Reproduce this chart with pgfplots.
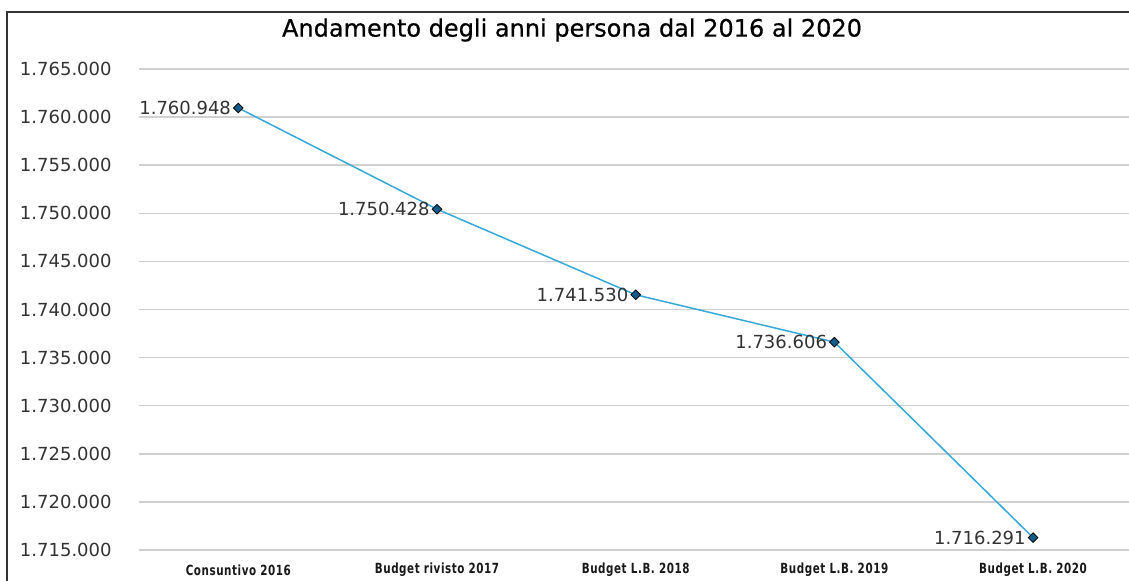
\documentclass[border=0pt]{standalone}
\usepackage{fontspec}
\setmainfont{DejaVu Sans}
\newfontfamily\condfont{DejaVu Sans}[FakeStretch=0.74, LetterSpace=4]
\newfontfamily\titlefont{DejaVu Sans}[FakeBold=0.6]
\usepackage{pgfplots}
\pgfplotsset{compat=1.18}
\definecolor{lineblue}{RGB}{55,168,218}
\definecolor{markblue}{RGB}{18,92,140}
\definecolor{gridgray}{RGB}{208,208,208}
\begin{document}
\begin{tikzpicture}
\begin{axis}[
  at={(0,0)}, anchor=south west,
  scale only axis, width=496.7pt, height=240.5pt,
  xmin=-0.5, xmax=4.5, ymin=1715000, ymax=1765000,
  xtick={0,1,2,3,4},
  xticklabels={Consuntivo 2016, Budget rivisto 2017, Budget L.B. 2018, Budget L.B. 2019, Budget L.B. 2020},
  ytick={1715000,1720000,1725000,1730000,1735000,1740000,1745000,1750000,1755000,1760000,1765000},
  ymajorgrids, grid style={draw=gridgray, line width=0.75pt},
  axis line style={draw=none}, major tick length=0pt,
  scaled y ticks=false,
  yticklabel style={anchor=east, inner sep=0pt, xshift=-13.5pt, font=\fontsize{9}{10}\selectfont, text=black!80},
  xticklabel style={anchor=center, inner sep=0pt, yshift=-10pt, font=\condfont\bfseries\fontsize{7}{8}\selectfont, text=black!90},
  /pgf/number format/fixed,
  /pgf/number format/1000 sep={.},
  /pgf/number format/assume math mode=true,
  clip=false,
]
\addplot[color=lineblue, line width=0.75pt, mark=square*, mark size=1.7pt,
  mark options={fill=markblue, draw=black, line width=0.4pt, rotate=45},
  nodes near coords, point meta=explicit symbolic,
  nodes near coords style={anchor=east, inner sep=0pt, xshift=-3.5pt, font=\fontsize{9}{10}\selectfont, text=black!80}]
  table[meta=label] {
x y label
0 1760948 1.760.948
1 1750428 1.750.428
2 1741530 1.741.530
3 1736606 1.736.606
4 1716291 1.716.291
};
\end{axis}
\node[font=\titlefont\fontsize{12}{14}\selectfont] at (216.5pt,260pt) {Andamento degli anni persona dal 2016 al 2020};
\draw[line width=1pt, draw=black!80] (-66pt,-30pt) -- (-66pt,269pt) -- (510pt,269pt);
\pgfresetboundingbox
\useasboundingbox (-69.5pt,-15.5pt) rectangle (495pt,275pt);
\end{tikzpicture}
\end{document}
